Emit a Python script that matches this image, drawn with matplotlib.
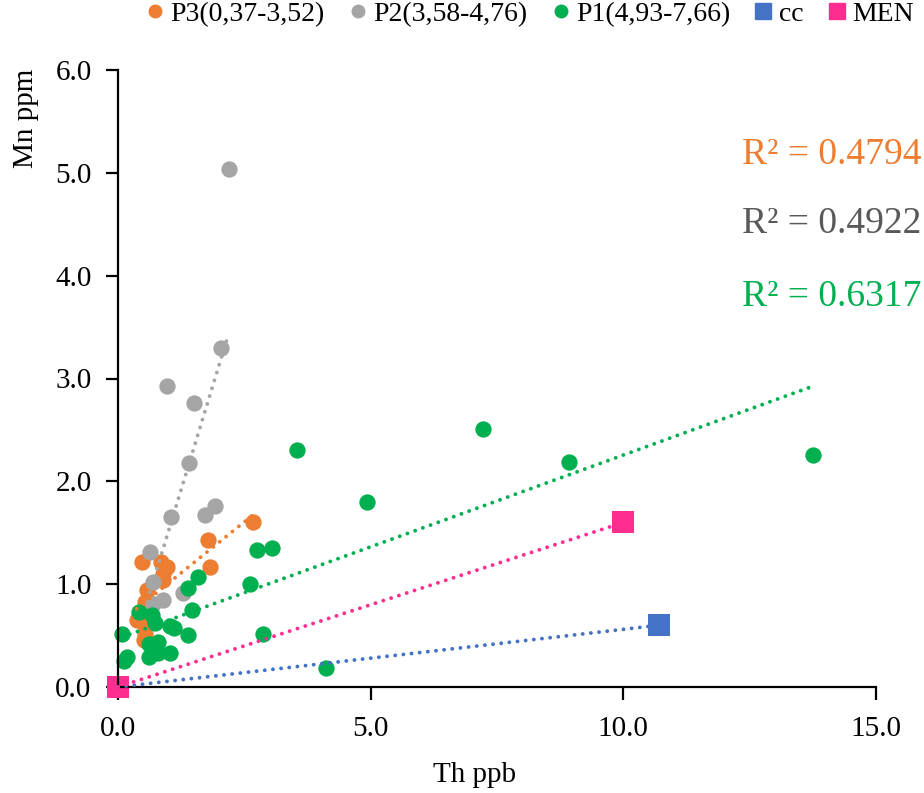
import numpy as np
import matplotlib
matplotlib.use("Agg")
import matplotlib.pyplot as plt
from matplotlib.lines import Line2D

plt.rcParams['font.family'] = ['Liberation Serif', 'DejaVu Serif']

# ---- data ----
p3_x = [0.37, 0.47, 0.86, 0.96, 0.90, 0.90, 0.57, 0.53, 0.61, 0.54, 0.51, 0.54, 1.78, 1.82, 2.67]
p3_y = [0.65, 1.22, 1.22, 1.17, 1.10, 1.04, 0.94, 0.83, 0.83, 0.52, 0.46, 0.59, 1.43, 1.17, 1.60]

p2_x = [0.63, 0.70, 0.70, 0.90, 1.29, 1.05, 0.97, 1.40, 1.50, 1.72, 1.92, 2.04, 2.19]
p2_y = [1.31, 1.02, 0.81, 0.85, 0.91, 1.65, 2.93, 2.18, 2.76, 1.67, 1.76, 3.30, 5.04]

p1_x = [0.08, 0.11, 0.18, 0.41, 0.61, 0.61, 0.67, 0.74, 0.80, 0.80, 1.03, 1.03, 1.10,
        1.39, 1.46, 1.39, 1.59, 2.62, 2.76, 3.05, 2.87, 4.11, 3.54, 4.92, 7.23, 8.93, 13.76]
p1_y = [0.52, 0.25, 0.29, 0.73, 0.29, 0.42, 0.70, 0.62, 0.44, 0.33, 0.59, 0.33, 0.57,
        0.51, 0.75, 0.96, 1.07, 1.00, 1.33, 1.35, 0.52, 0.18, 2.30, 1.80, 2.51, 2.19, 2.26]

cc_x = [0.0, 10.7]
cc_y = [0.0, 0.60]

men_x = [0.0, 10.0]
men_y = [0.0, 1.60]

labels = ['P3(0,37-3,52)', 'P2(3,58-4,76)', 'P1(4,93-7,66)', 'cc', 'MEN']
r2_texts = ['R² = 0.4794', 'R² = 0.4922', 'R² = 0.6317']

C_OR = '#ED7D31'
C_GR = '#A5A5A5'
C_GN = '#00B050'
C_BL = '#4472C4'
C_PK = '#FF2D90'

fig = plt.figure(figsize=(9.24, 7.93), dpi=100)
ax = fig.add_axes([118/924, 106/793, (876-118)/924, (687-70)/793])

circ_s = 138
sq_s = 235
series = [
    (p3_x, p3_y, C_OR, 'o', circ_s),
    (p2_x, p2_y, C_GR, 'o', circ_s),
    (p1_x, p1_y, C_GN, 'o', circ_s),
    (cc_x, cc_y, C_BL, 's', sq_s),
    (men_x, men_y, C_PK, 's', sq_s),
]
for i, (xs, ys, c, m, s) in enumerate(series):
    ax.scatter(xs, ys, s=s, c=c, marker=m, linewidths=0, zorder=2 + i * 0.1, clip_on=False)

# trendlines (least-squares fit of each series)
for i, (xs, ys, c, m, s) in enumerate(series):
    xs = np.asarray(xs); ys = np.asarray(ys)
    k, b = np.polyfit(xs, ys, 1)
    xx = np.array([xs.min(), xs.max()])
    ax.plot(xx, k * xx + b, color=c, lw=2.8, linestyle=(0, (0.01, 2.1)),
            dash_capstyle='round', zorder=3, clip_on=False)

ax.set_xlim(0, 15)
ax.set_ylim(0, 6)
ax.set_xticks([0, 5, 10, 15])
ax.set_yticks([0, 1, 2, 3, 4, 5, 6])
ax.set_xticklabels(['0.0', '5.0', '10.0', '15.0'])
ax.set_yticklabels(['0.0', '1.0', '2.0', '3.0', '4.0', '5.0', '6.0'])
for sp in ['top', 'right']:
    ax.spines[sp].set_visible(False)
for sp in ['left', 'bottom']:
    ax.spines[sp].set_linewidth(1.6)
    ax.spines[sp].set_color('black')
ax.tick_params(axis='both', direction='out', length=9, width=1.6, labelsize=21, colors='black')
ax.tick_params(axis='x', pad=12)
ax.tick_params(axis='y', pad=10)

fig.text(475/924, 1 - 775/793, 'Th ppb', ha='center', va='center', fontsize=21)
fig.text(26/924, 1 - 118/793, 'Mn ppm', ha='center', va='center', fontsize=21, rotation=90)

# R² texts
r2_colors = [C_OR, '#595959', C_GN]
r2_y = [155, 224, 297]
for t, c, yy in zip(r2_texts, r2_colors, r2_y):
    fig.text(921/924, 1 - yy/793, t, ha='right', va='center', fontsize=27, color=c)

# legend
handles = [
    Line2D([], [], marker='o', color=C_OR, linestyle='none', markersize=9),
    Line2D([], [], marker='o', color=C_GR, linestyle='none', markersize=9),
    Line2D([], [], marker='o', color=C_GN, linestyle='none', markersize=9),
    Line2D([], [], marker='s', color=C_BL, linestyle='none', markersize=12),
    Line2D([], [], marker='s', color=C_PK, linestyle='none', markersize=12),
]
fig.legend(handles, labels, loc='upper center', bbox_to_anchor=(530/924, 1.012), ncol=5,
           frameon=False, fontsize=20, handlelength=0.6, handletextpad=0.25,
           columnspacing=0.9, borderaxespad=0.0)

fig.savefig('out.png', dpi=100)
